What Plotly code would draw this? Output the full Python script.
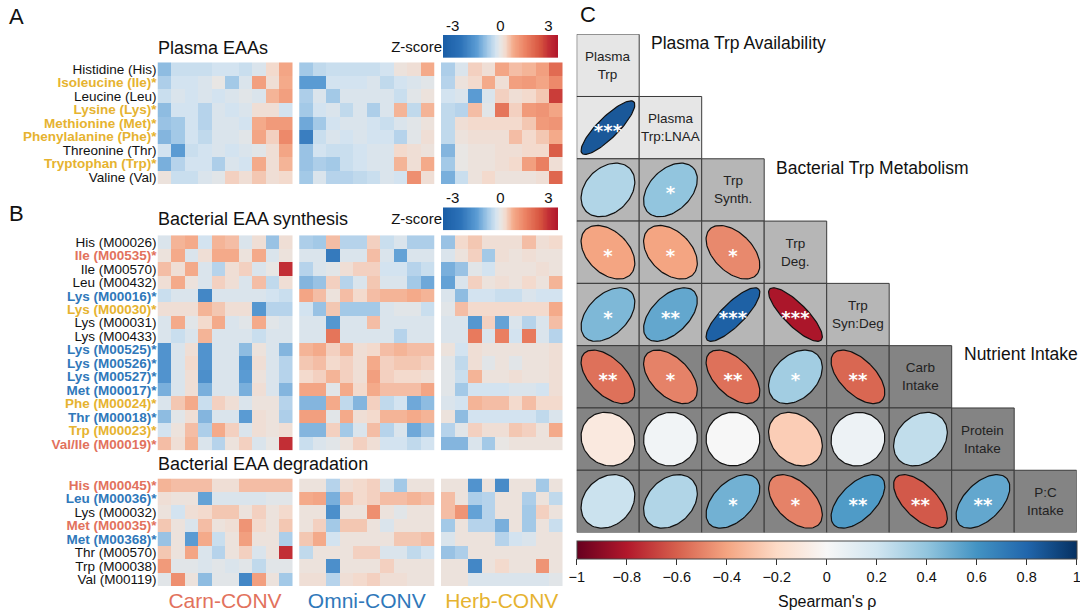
import numpy as np
import plotly.graph_objects as go
from plotly.colors import sample_colorscale

W, H = 1080, 614
FONT = "Liberation Sans, Arial, sans-serif"

# couleurs des groupes
CARN = "#e2725d"
OMNI = "#2f78ba"
HERB = "#e6b330"

# DONNEES - Z-scores (lignes = variables, colonnes = individus)
plasma_labels = ["Histidine (His)", "Isoleucine (Ile)*", "Leucine (Leu)", "Lysine (Lys)*",
                 "Methionine (Met)*", "Phenylalanine (Phe)*", "Threonine (Thr)",
                 "Tryptophan (Trp)*", "Valine (Val)"]
plasma_sig = [None, HERB, None, HERB, HERB, HERB, None, HERB, None]

plasma_carn = [
    [-1.0, -0.4, -0.4, -0.4, -0.3, -0.3, -0.4, -0.2, 0.3, 0.9],
    [-0.7, -0.3, -0.3, -0.2, 0.0, -0.8, -0.2, 1.0, 0.2, 0.8],
    [-0.4, -0.2, -0.3, -0.2, -0.3, -0.2, -0.1, -0.2, 0.7, 1.0],
    [-1.0, -0.3, -0.3, -0.6, -0.2, -0.3, -0.2, 0.2, 0.2, -0.3],
    [-0.9, -0.8, -0.3, -0.6, -0.2, -0.2, -0.3, 0.8, 1.1, 1.1],
    [-1.1, -0.8, -0.3, -0.5, -0.2, -0.2, -0.1, 0.9, 0.4, 1.4],
    [-0.3, -1.5, -0.4, -0.3, -0.2, -0.3, -0.2, -0.1, 0.2, 0.9],
    [-1.2, -0.6, -0.3, -0.3, -0.7, -0.2, -0.3, 0.8, 0.2, 0.7],
    [0.1, -0.4, -0.4, -0.2, -0.1, 0.4, 0.2, 0.5, 0.2, 0.3],
]
plasma_omni = [
    [-0.8, -0.5, -0.4, -0.4, -0.4, -0.4, -0.3, 0.1, 0.2, 0.8],
    [-1.5, -1.5, -0.3, -0.3, -0.3, -0.2, -0.5, -0.3, -0.2, -0.1],
    [-0.7, -0.2, -0.8, -0.2, -0.2, -0.2, -0.2, -0.4, -0.1, 0.1],
    [-0.8, -0.3, -0.2, -0.5, -0.2, -0.7, -0.2, 0.7, -0.5, 0.7],
    [-1.3, -0.8, -0.3, -0.2, -0.2, -0.3, -0.4, -0.2, -0.1, 0.1],
    [-2.2, -0.4, -0.2, -0.3, -0.2, -0.3, -0.3, -0.6, -0.1, 0.2],
    [-0.9, -0.3, -0.4, -0.4, -0.3, -0.2, -0.2, 0.3, 0.2, 0.1],
    [-0.9, -0.7, -0.8, -0.4, -0.3, -0.2, -0.2, 0.7, 0.2, 0.8],
    [-0.8, -0.2, -0.6, -0.6, -0.5, -0.4, -0.2, -0.3, 1.3, 0.2],
]
plasma_herb = [
    [-0.7, -0.2, 0.4, 0.2, 0.9, 0.6, 0.7, 1.0, 2.0],
    [-0.6, 0.1, 0.3, 0.8, 0.2, 1.0, 1.1, 0.9, 1.4],
    [-0.3, -0.2, -1.5, -0.2, 0.4, 0.2, 0.3, 0.5, 2.8],
    [-0.5, -0.6, 0.6, -0.1, 1.8, 0.4, 1.1, 1.2, 0.9],
    [-0.5, 0.2, 0.3, 0.3, 0.3, 0.3, 0.5, 1.1, 1.2],
    [-0.5, 0.1, 0.2, 0.2, 0.2, 0.6, 0.3, 0.5, 0.8],
    [-1.1, 0.0, 0.1, 0.1, 0.2, 0.2, 0.3, 0.3, 2.3],
    [-0.8, 0.0, 0.1, 0.1, 0.2, 0.3, 1.0, 1.6, 0.2],
    [-1.2, -0.4, 0.1, 0.3, 0.1, 0.1, 0.1, 0.2, 2.1],
]

synth_labels = ["His (M00026)", "Ile (M00535)*", "Ile (M00570)", "Leu (M00432)",
                "Lys (M00016)*", "Lys (M00030)*", "Lys (M00031)", "Lys (M00433)",
                "Lys (M00525)*", "Lys (M00526)*", "Lys (M00527)*", "Met (M00017)*",
                "Phe (M00024)*", "Thr (M00018)*", "Trp (M00023)*", "Val/Ile (M00019)*"]
synth_sig = [None, CARN, None, None, OMNI, HERB, None, None,
             OMNI, OMNI, OMNI, OMNI, HERB, OMNI, HERB, CARN]

synth_carn = [
    [-0.2, 0.7, 0.8, -0.3, 0.7, 0.6, -0.2, 0.2, -0.9, 0.2],
    [0.1, 0.8, -0.2, 0.2, 0.8, 0.8, 0.1, 0.8, -0.2, 0.1],
    [0.6, 0.2, 0.8, -0.2, -0.6, 0.2, 0.4, -0.2, 0.0, 3.0],
    [0.2, 0.8, 0.1, -0.2, 0.4, 0.2, -0.2, 0.6, -0.5, 0.2],
    [-0.4, -0.2, -0.2, -2.0, -0.2, -0.2, -0.2, -0.2, -0.3, -0.4],
    [0.2, 0.2, 0.2, 0.7, 0.5, 0.2, 0.2, -1.6, -0.6, -0.6],
    [-0.2, 0.8, -0.1, 0.3, 0.8, -0.2, -0.1, 0.8, -0.1, -0.2],
    [-0.2, -0.4, -0.2, 0.7, -0.2, -0.2, -0.2, -0.4, -0.2, -0.2],
    [-1.7, -0.2, 0.2, -1.7, -0.2, -0.2, -1.0, 0.1, -0.2, -1.1],
    [-1.7, -0.2, 0.3, -1.7, -0.2, -0.2, -1.6, 0.2, -0.2, -0.6],
    [-1.7, -0.2, 0.2, -1.8, -0.2, -0.2, -1.5, 0.1, -0.2, -0.6],
    [-1.2, -0.2, 0.2, -1.2, -0.2, -0.2, -1.2, 0.2, -0.2, -1.1],
    [-0.2, 0.5, 0.8, -0.4, 0.4, 0.2, -0.2, 0.1, 0.1, -0.6],
    [-1.0, -0.1, 0.2, -1.1, -0.2, -0.2, -1.5, 0.2, 0.1, -0.7],
    [-0.3, 0.1, 0.6, -0.7, 0.8, 0.4, -0.2, 0.2, 0.1, 0.2],
    [0.6, 0.2, 0.7, -0.2, -0.6, 0.1, 0.4, -0.2, 0.0, 3.0],
]
synth_omni = [
    [-0.7, -0.8, 0.6, -0.6, -0.6, 0.4, -0.4, -0.2, -0.7, -0.7],
    [-0.2, -0.2, -2.3, -0.2, -0.2, 0.6, -0.2, -1.4, -0.2, -0.2],
    [-0.6, -0.2, -0.1, 0.2, 0.4, 0.4, -0.3, -0.3, -0.6, -0.4],
    [-1.1, -0.9, 0.4, -0.6, -0.2, 0.5, -0.2, -0.2, -0.8, -1.3],
    [0.9, 0.6, 0.1, 0.6, 0.3, 0.6, 0.7, 0.7, 0.8, 0.7],
    [-0.3, -0.9, 0.5, -0.8, -0.8, -0.8, -0.2, -0.1, -0.1, -0.4],
    [-0.2, -0.2, -1.6, -0.2, -0.2, 0.6, -0.2, -0.2, -0.2, -0.2],
    [-0.2, -0.2, 1.8, -0.2, -0.2, -0.2, -0.2, -0.6, -0.2, -0.2],
    [0.7, 0.8, 0.4, 0.7, 0.2, 0.3, 0.6, 0.7, 0.6, 0.6],
    [0.5, 0.6, 0.3, 0.4, 0.2, 0.8, 0.4, 0.5, 0.5, 0.4],
    [0.3, 0.4, 0.7, 0.4, 0.2, 1.0, 0.4, 0.3, 0.3, 0.2],
    [0.9, 0.9, -0.1, 0.8, 0.3, 0.8, 0.6, 0.6, 0.6, 0.9],
    [-1.1, -1.1, 0.8, -0.5, -1.1, 0.4, -0.5, -0.3, -1.3, -1.0],
    [1.0, 1.0, -0.1, 0.8, 0.2, 0.3, 0.7, 0.7, 0.8, 0.7],
    [-1.1, -1.1, 0.4, -0.8, -0.2, 0.6, -0.6, -0.2, -1.3, -0.9],
    [-0.4, -0.2, -0.1, 0.1, 0.4, 0.2, -0.3, -0.3, -0.5, -0.3],
]
synth_herb = [
    [-0.9, 0.3, 0.5, 0.2, 0.2, 0.2, 0.6, 0.2, 0.3],
    [-0.2, 0.1, 0.4, -0.8, 0.2, 0.1, 0.2, 0.1, 0.1],
    [-1.2, -0.9, -0.1, -0.3, 0.1, 0.1, 0.1, 0.2, 0.1],
    [-1.4, -0.2, 0.4, 0.1, 0.2, 0.1, 0.3, 0.1, 0.7],
    [-0.2, -1.0, -0.3, -0.3, -0.4, -0.4, -0.2, -0.3, -0.3],
    [-0.1, 0.6, 0.3, 0.3, 0.3, 0.3, 0.3, 0.3, 0.8],
    [-0.2, -0.2, -1.6, 0.4, -1.4, -0.2, -0.6, -0.2, 0.6],
    [-0.2, -0.2, 1.7, -0.2, 1.6, -0.3, 1.7, -0.2, -0.6],
    [0.1, -0.3, 0.2, 0.1, 0.1, 0.1, 0.1, 0.1, 0.2],
    [-0.1, -0.5, 0.2, -0.1, 0.1, -0.1, 0.1, 0.1, 0.2],
    [-0.1, -0.4, 0.7, 0.1, 0.1, 0.2, 0.1, 0.1, 0.2],
    [-0.1, -0.8, -0.3, -0.3, -0.3, -0.2, -0.2, -0.3, 0.2],
    [-0.2, -0.3, 0.7, 0.6, 0.6, 0.3, 0.6, 0.3, 0.3],
    [0.1, -1.0, -0.3, -0.3, -0.3, -0.3, -0.3, -0.5, -0.2],
    [-0.6, -0.1, 0.4, 0.2, 0.2, 0.5, 0.4, 0.1, 0.8],
    [-1.1, -1.1, -0.2, -0.8, 0.0, 0.1, 0.1, 0.1, 0.1],
]

degr_labels = ["His (M00045)*", "Leu (M00036)*", "Lys (M00032)", "Met (M00035)*",
               "Met (M00368)*", "Thr (M00570)", "Trp (M00038)", "Val (M00119)"]
degr_sig = [CARN, OMNI, None, CARN, OMNI, None, None, None]

degr_carn = [
    [0.7, 0.6, 0.6, 0.6, 0.2, 0.2, 0.6, 0.6, 0.6, 0.6],
    [0.2, 0.1, 0.1, -1.4, -0.2, -0.2, -0.2, -0.2, -0.1, -0.1],
    [0.1, -0.3, 0.2, 0.3, 0.5, 0.5, 0.1, 0.4, 0.1, 0.3],
    [0.5, 0.1, -0.2, 0.6, 0.1, 0.2, 1.2, 0.3, 0.1, 0.5],
    [-0.9, 0.1, -1.5, 0.8, -0.4, 0.1, 1.0, 0.1, 0.1, -0.7],
    [0.5, 0.1, 0.9, -0.2, -0.6, 0.1, 0.4, -0.2, 0.1, 3.0],
    [1.1, -0.1, -0.1, -0.2, -0.1, -0.2, -0.1, -0.5, -0.1, -0.1],
    [-0.1, 1.3, 0.1, -1.0, -0.1, -0.1, -2.0, 1.0, 0.1, -0.8],
]
degr_omni = [
    [0.1, 0.1, -0.6, 0.2, 0.3, 0.4, -0.2, -0.8, 0.1, 0.1],
    [0.8, 0.9, -1.2, 0.6, 0.3, 0.4, 0.6, 0.6, 0.7, 0.6],
    [0.1, 0.1, -1.8, 0.1, 0.1, 1.3, 0.1, -0.1, 0.1, 0.1],
    [0.1, 0.4, -0.8, 0.5, 0.5, 0.1, -0.2, 0.1, 0.1, 0.1],
    [0.5, 0.8, -0.3, 0.1, 0.1, 0.1, 0.1, 0.5, 0.5, 0.6],
    [-0.5, 0.1, 0.1, 0.1, 0.4, 0.4, -0.2, -0.2, -0.5, -0.3],
    [0.1, 0.1, -1.8, 0.1, 0.1, 0.1, 0.4, 0.1, 0.1, 0.1],
    [0.2, 0.2, -0.6, 0.2, 0.3, 0.4, 0.2, 0.2, 0.1, 0.1],
]
degr_herb = [
    [0.1, 0.1, -1.7, 0.1, -1.9, 0.1, 0.1, -0.8, 0.1],
    [0.6, 0.1, -0.7, -0.6, 0.1, 0.1, -0.7, 0.1, -0.5],
    [0.6, 1.2, -1.4, -0.6, 0.1, 0.1, -0.8, 0.4, 0.1],
    [-0.8, 0.1, -0.6, -0.6, -1.2, 0.1, -0.8, 0.1, -0.4],
    [-0.2, 0.1, 0.1, 0.1, -0.6, -0.3, -0.2, 0.1, 0.1],
    [-0.9, -0.7, 0.1, 0.1, 0.1, 0.1, 0.1, 0.1, 0.1],
    [0.1, 0.1, -2.0, 0.1, 0.3, 0.1, 0.1, 1.2, 0.1],
    [0.1, 0.1, -0.2, -0.2, -0.2, -0.2, -0.2, -0.2, -0.1],
]

group_names = ["Carn-CONV", "Omni-CONV", "Herb-CONV"]
group_colors = [CARN, OMNI, HERB]

# DONNEES - corrélations de Spearman (triangle inférieur)
corr_labels = ["Plasma<br>Trp", "Plasma<br>Trp:LNAA", "Trp<br>Synth.", "Trp<br>Deg.",
               "Trp<br>Syn:Deg", "Carb<br>Intake", "Protein<br>Intake", "P:C<br>Intake"]
corr_groups = [0, 0, 1, 1, 1, 2, 2, 2]
corr_group_titles = ["Plasma Trp Availability", "Bacterial Trp Metabolism", "Nutrient Intake"]
rho_rows = [
    [],
    [0.85],
    [0.30, 0.40],
    [-0.40, -0.40, -0.48],
    [0.45, 0.52, 0.82, -0.82],
    [-0.55, -0.50, -0.55, 0.35, -0.58],
    [-0.10, 0.03, 0.00, -0.25, 0.05, 0.25],
    [0.22, 0.30, 0.48, -0.50, 0.57, -0.62, 0.52],
]
sig_rows = [
    [],
    ["***"],
    ["", "*"],
    ["*", "*", "*"],
    ["*", "**", "***", "***"],
    ["**", "*", "**", "*", "**"],
    ["", "", "", "", "", ""],
    ["", "", "*", "*", "**", "**", "**"],
]
rho_ticks = [-1, -0.8, -0.6, -0.4, -0.2, 0, 0.2, 0.4, 0.6, 0.8, 1]

# PALETTES
ZMAX = 3.6
Z_STOPS = [(-3.6, "#1a5da6"), (-2.5, "#2c72b8"), (-1.5, "#5a9bd3"), (-0.8, "#a3c9e7"),
           (-0.3, "#d3e3f0"), (0.0, "#e8e6e4"), (0.3, "#f3dacd"), (0.8, "#f4aa8a"),
           (1.5, "#ec8465"), (2.5, "#d6533f"), (3.0, "#c22e35"), (3.6, "#b0162b")]
Z_SCALE = [[(z + ZMAX) / (2 * ZMAX), c] for z, c in Z_STOPS]
RDBU = ["#67001f", "#b2182b", "#d6604d", "#f4a582", "#fddbc7", "#f7f7f7",
        "#d1e5f0", "#92c5de", "#4393c3", "#2166ac", "#053061"]
RHO_SCALE = [[k / 10, c] for k, c in enumerate(RDBU)]
CELL_BG = ["#e6e6e6", "#b6b6b6", "#848484"]


def px_x(p):
    return p / W


def px_y(p):
    return 1 - p / H


def _label(text, color):
    if color is None:
        return text
    return f"<span style='color:{color}'><b>{text}</b></span>"


fig = go.Figure()

# HEATMAPS A / B
panels = [
    ("y", [plasma_carn, plasma_omni, plasma_herb]),
    ("y2", [synth_carn, synth_omni, synth_herb]),
    ("y3", [degr_carn, degr_omni, degr_herb]),
]
offsets = [0, 10.5, 21]
for yref, mats in panels:
    for off, mat in zip(offsets, mats):
        z = np.array(mat)
        fig.add_trace(go.Heatmap(
            z=z, x=np.arange(z.shape[1]) + off + 0.5, y=np.arange(z.shape[0]),
            coloraxis="coloraxis", xaxis="x", yaxis=yref, hoverinfo="skip",
        ))

# barres de couleur Z-score (ticks au-dessus)
zbar = np.linspace(-ZMAX, ZMAX, 145)
for xa, ya in [("x4", "y4"), ("x5", "y5")]:
    fig.add_trace(go.Heatmap(z=[zbar], x=zbar, y=[0], coloraxis="coloraxis",
                             xaxis=xa, yaxis=ya, hoverinfo="skip"))

# PANEL C - matrice de corrélation en ellipses
shapes = []
for i in range(8):
    for j in range(i + 1):
        shapes.append(dict(type="rect", xref="x6", yref="y6", x0=j, x1=j + 1, y0=i, y1=i + 1,
                           fillcolor=CELL_BG[corr_groups[i]], line=dict(color="#3a3a3a", width=1),
                           layer="below"))

cx, cy, cvals, ctext = [], [], [], []
for i, row in enumerate(rho_rows):
    for j, rho in enumerate(row):
        cx.append(j + 0.5)
        cy.append(i + 0.5)
        cvals.append(rho)
        ctext.append(sig_rows[i][j])

# trace support pour la barre de couleur Spearman (placée sous les ellipses)
fig.add_trace(go.Scatter(
    x=cx, y=cy, mode="markers", xaxis="x6", yaxis="y6", hoverinfo="skip",
    marker=dict(size=0, color=cvals, colorscale=RHO_SCALE, cmin=-1, cmax=1, showscale=True,
                colorbar=dict(
                    orientation="h", x=px_x(826.7), xanchor="center", y=px_y(541.5), yanchor="top",
                    lenmode="pixels", len=500, thicknessmode="pixels", thickness=18,
                    xpad=0, ypad=0, outlinewidth=1, outlinecolor="#444",
                    ticks="outside", ticklen=6, tickcolor="#333", tickvals=rho_ticks,
                    ticklabeloverflow="allow",
                    tickfont=dict(size=14.5, color="#111"),
                )),
))

t = np.linspace(0, 2 * np.pi, 100)
r = 0.43
for x0, y0, rho in zip(cx, cy, cvals):
    d = np.arccos(rho)
    ex = r * np.cos(t + d / 2)
    ey = r * np.cos(t - d / 2)
    fill = sample_colorscale(RHO_SCALE, [(rho + 1) / 2])[0]
    fig.add_trace(go.Scatter(
        x=x0 + ex, y=y0 - ey, mode="lines", fill="toself",
        fillcolor=fill, line=dict(color="#111", width=1.2),
        xaxis="x6", yaxis="y6", hoverinfo="skip",
    ))

# étoiles de significativité
fig.add_trace(go.Scatter(
    x=cx, y=[v + 0.08 for v in cy], mode="text", text=ctext,
    textfont=dict(color="white", size=18, family="DejaVu Sans", weight="bold"),
    textposition="middle center", xaxis="x6", yaxis="y6", hoverinfo="skip",
))

annotations = []
for i, lab in enumerate(corr_labels):
    annotations.append(dict(x=i + 0.5, y=i + 0.5, xref="x6", yref="y6", text=lab, showarrow=False,
                            font=dict(size=13.5, color="#222")))
for g, title in enumerate(corr_group_titles):
    i = corr_groups.index(g)
    annotations.append(dict(x=i + 1.16, y=i + 0.14, xref="x6", yref="y6", text=title,
                            showarrow=False, xanchor="left", yanchor="middle",
                            font=dict(size=17.5, color="#111")))

# titres et lettres
for txt, x, y, size, anchor in [("Plasma EAAs", 156, 47, 18, "left"),
                                ("Bacterial EAA synthesis", 156, 219, 18, "left"),
                                ("Bacterial EAA degradation", 156, 465, 18, "left"),
                                ("A", 7, 16, 22, "left"), ("B", 7, 213, 22, "left"),
                                ("C", 578, 14, 22, "left"),
                                ("Spearman's ρ", 826.7, 602, 16, "center")]:
    annotations.append(dict(x=px_x(x), y=px_y(y), xref="paper", yref="paper", text=txt,
                            showarrow=False, xanchor=anchor, yanchor="middle",
                            font=dict(size=size, color="#111")))

hide = dict(showgrid=False, zeroline=False, showticklabels=False, ticks="", showline=False)


def _yaxis(top, bottom, labels, sig, size):
    return dict(domain=[px_y(bottom), px_y(top)], range=[len(labels) - 0.5, -0.5], anchor="x",
                tickvals=list(range(len(labels))),
                ticktext=[_label(l, c) for l, c in zip(labels, sig)],
                ticks="", showgrid=False, zeroline=False, tickfont=dict(size=size, color="#111"))


def _bar_axes(top, bottom, n):
    xa = dict(domain=[px_x(443), px_x(558)], range=[-ZMAX, ZMAX], side="top", anchor=f"y{n}",
              tickvals=[-3, 0, 3], ticktext=["-3", "0", "3"], ticks="", showgrid=False,
              zeroline=False, tickfont=dict(size=15, color="#111"))
    ya = dict(domain=[px_y(bottom), px_y(top)], range=[-0.5, 0.5], tickvals=[0], anchor=f"x{n}",
              ticktext=["Z-score"], ticks="", showgrid=False, zeroline=False,
              tickfont=dict(size=15, color="#111"))
    return xa, ya


x4, y4 = _bar_axes(34, 57, 4)
x5, y5 = _bar_axes(207, 230, 5)

fig.update_layout(
    width=W, height=H, margin=dict(l=0, r=0, t=0, b=0),
    paper_bgcolor="white", plot_bgcolor="white", showlegend=False,
    font=dict(family=FONT, color="#111"),
    coloraxis=dict(colorscale=Z_SCALE, cmin=-ZMAX, cmax=ZMAX, showscale=False),
    xaxis=dict(domain=[px_x(157.5), px_x(562.5)], range=[0, 30], anchor="y3",
               tickvals=[5, 15.5, 25.5],
               ticktext=[f"<span style='color:{c}'>{n}</span>" for n, c in zip(group_names, group_colors)],
               ticks="", showgrid=False, zeroline=False, tickfont=dict(size=21)),
    yaxis=_yaxis(61.5, 183.5, plasma_labels, plasma_sig, 13.5),
    yaxis2=_yaxis(235, 451, synth_labels, synth_sig, 13.5),
    yaxis3=_yaxis(479, 587, degr_labels, degr_sig, 13.5),
    xaxis4=x4, yaxis4=y4, xaxis5=x5, yaxis5=y5,
    xaxis6=dict(domain=[px_x(576.7), px_x(1076.7)], range=[0, 8], anchor="y6", **hide),
    yaxis6=dict(domain=[px_y(533.3), px_y(33.3)], range=[8, 0], anchor="x6", **hide),
    shapes=shapes, annotations=annotations,
)

# la page HTML par défaut ajoute une marge de 8 px autour du graphique
fig.write_html("out.html", config={"displayModeBar": False},
               post_script="document.body.style.margin='0';")
